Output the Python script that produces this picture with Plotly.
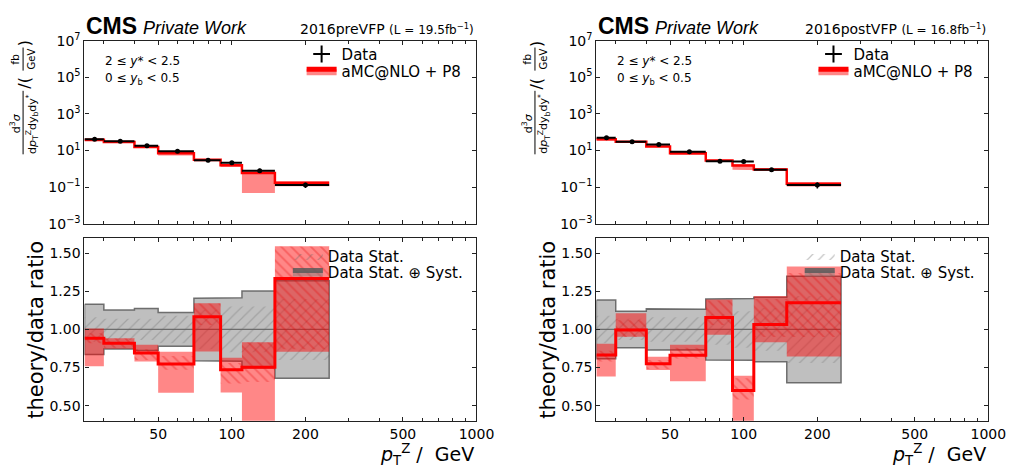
import math
import plotly.graph_objects as go

# ---------------- data ----------------
edges = [25, 30, 40, 50, 70, 90, 110, 150, 250]

# 2016preVFP
pre_data = [41, 32, 18.3, 9.2, 2.9, 2.1, 0.79, 0.13]
pre_ratio = [0.943, 0.91, 0.845, 0.773, 1.084, 0.735, 0.752, 1.334]
pre_theo_lo = [0.759, 0.874, 0.79, 0.584, 0.855, 0.586, 0.06, 0.853]
pre_theo_hi = [1.006, 0.943, 0.90, 0.853, 1.172, 0.815, 0.916, 1.546]
pre_theo_stat_lo = [0.91, 0.88, 0.80, 0.735, 1.03, 0.645, 0.655, 0.87]
pre_theo_stat_hi = [0.975, 0.94, 0.87, 0.825, 1.17, 0.78, 0.915, 1.545]
pre_unc_tot = [0.165, 0.128, 0.138, 0.111, 0.205, 0.208, 0.252, 0.32]
pre_unc_stat = [0.08, 0.07, 0.07, 0.09, 0.13, 0.15, 0.15, 0.2]

# 2016postVFP
post_data = [50, 30, 21, 8.5, 2.6, 2.5, 0.89, 0.13]
post_ratio = [0.832, 0.996, 0.775, 0.83, 1.078, 0.599, 1.033, 1.176]
post_theo_lo = [0.691, 0.952, 0.733, 0.66, 0.966, 0.35, 0.916, 0.822]
post_theo_hi = [0.906, 1.106, 0.82, 0.9, 1.197, 0.696, 1.22, 1.414]
post_theo_stat_lo = [0.79, 0.95, 0.74, 0.81, 1.03, 0.54, 0.95, 0.95]
post_theo_stat_hi = [0.86, 1.06, 0.80, 0.88, 1.19, 0.68, 1.20, 1.37]
post_unc_tot = [0.193, 0.12, 0.135, 0.133, 0.2, 0.203, 0.212, 0.35]
post_unc_stat = [0.09, 0.07, 0.08, 0.08, 0.1, 0.12, 0.14, 0.22]

x_major_vals = [50, 100, 200, 500, 1000]
x_major_text = ["50", "100", "200", "500", "1000"]
x_minor_vals = [30, 40, 60, 70, 80, 90, 300, 400, 600, 700, 800, 900]
top_y_tick_vals = [1e-3, 1e-1, 1e1, 1e3, 1e5, 1e7]
top_y_tick_text = ["10<sup>−3</sup>", "10<sup>−1</sup>", "10<sup>1</sup>", "10<sup>3</sup>", "10<sup>5</sup>", "10<sup>7</sup>"]
ratio_tick_vals = [0.5, 0.75, 1.0, 1.25, 1.5]
ratio_tick_text = ["0.50", "0.75", "1.00", "1.25", "1.50"]

eras = ["2016preVFP", "2016postVFP"]
lumis = ["19.5", "16.8"]

# ---------------- helpers ----------------
W, H = 1027, 476
FONT = "DejaVu Sans"


def pxx(x):
    return x / W


def pxy(y):
    return 1 - y / H


def step_line(vals):
    return edges, list(vals) + [vals[-1]]


def band_poly(lo, hi):
    xs, ys = [], []
    for i in range(len(lo)):
        xs += [edges[i], edges[i + 1]]
        ys += [hi[i], hi[i]]
    for i in reversed(range(len(lo))):
        xs += [edges[i + 1], edges[i]]
        ys += [lo[i], lo[i]]
    xs.append(xs[0])
    ys.append(ys[0])
    return xs, ys


centers = [(a + b) / 2 for a, b in zip(edges[:-1], edges[1:])]
halfw = [(b - a) / 2 for a, b in zip(edges[:-1], edges[1:])]

panels = [
    dict(data=pre_data, ratio=pre_ratio, tlo=pre_theo_lo, thi=pre_theo_hi,
         slo=pre_theo_stat_lo, shi=pre_theo_stat_hi, utot=pre_unc_tot, ustat=pre_unc_stat,
         xa="x", ya="y", xb="x2", yb="y2", legs=["legend", "legend2", "legend3", "legend4"], off=0),
    dict(data=post_data, ratio=post_ratio, tlo=post_theo_lo, thi=post_theo_hi,
         slo=post_theo_stat_lo, shi=post_theo_stat_hi, utot=post_unc_tot, ustat=post_unc_stat,
         xa="x3", ya="y3", xb="x4", yb="y4", legs=["legend5", "legend6", "legend7", "legend8"], off=521),
]

fig = go.Figure()
RED_FILL = "rgba(255,0,0,0.47)"

for p in panels:
    data = p["data"]
    legs = p["legs"]
    theo = [d * r for d, r in zip(data, p["ratio"])]
    tlo_abs = [d * r for d, r in zip(data, p["tlo"])]
    thi_abs = [d * r for d, r in zip(data, p["thi"])]

    # ---- top panel ----
    bx, by = band_poly(tlo_abs, thi_abs)
    fig.add_trace(go.Scatter(x=bx, y=by, xaxis=p["xa"], yaxis=p["ya"], mode="lines",
                             fill="toself", fillcolor=RED_FILL, line=dict(width=0),
                             showlegend=False, hoverinfo="skip"))
    sx, sy = step_line(theo)
    fig.add_trace(go.Scatter(x=sx, y=sy, xaxis=p["xa"], yaxis=p["ya"], mode="lines",
                             line=dict(color="red", width=2.5, shape="hv"), showlegend=False))
    yerr = [d * u for d, u in zip(data, p["utot"])]
    fig.add_trace(go.Scatter(x=centers, y=data, xaxis=p["xa"], yaxis=p["ya"], mode="markers",
                             marker=dict(color="black", size=5),
                             error_x=dict(type="data", array=halfw, color="black", thickness=2, width=0),
                             error_y=dict(type="data", array=yerr, color="black", thickness=1.5, width=0),
                             showlegend=False))
    # legend entries (top)
    fig.add_trace(go.Scatter(x=[None], y=[None], xaxis=p["xa"], yaxis=p["ya"], mode="markers",
                             marker=dict(symbol="cross-thin", size=15, color="black",
                                         line=dict(color="black", width=2)),
                             name="Data", legend=legs[0], showlegend=True))
    fig.add_trace(go.Scatter(x=[None], y=[None], xaxis=p["xa"], yaxis=p["ya"], mode="lines",
                             fill="toself", fillcolor=RED_FILL, line=dict(color="red", width=2.5),
                             name="aMC@NLO + P8", legend=legs[1], showlegend=True))

    # ---- ratio panel ----
    glo = [1 - u for u in p["utot"]]
    ghi = [1 + u for u in p["utot"]]
    gx, gy = band_poly(glo, ghi)
    slo = [1 - u for u in p["ustat"]]
    shi = [1 + u for u in p["ustat"]]
    hx, hy = band_poly(slo, shi)
    fig.add_trace(go.Scatter(x=hx, y=hy, xaxis=p["xb"], yaxis=p["yb"], mode="lines",
                             fill="toself", fillcolor="rgba(0,0,0,0)",
                             fillpattern=dict(shape="/", fgcolor="rgba(100,100,100,0.75)",
                                              bgcolor="rgba(0,0,0,0)", size=8, solidity=0.15),
                             line=dict(width=0), name="Data Stat.", legend=legs[2],
                             showlegend=True, hoverinfo="skip"))
    fig.add_trace(go.Scatter(x=gx, y=gy, xaxis=p["xb"], yaxis=p["yb"], mode="lines",
                             fill="toself", fillcolor="rgba(128,128,128,0.5)",
                             line=dict(color="rgba(90,90,90,0.85)", width=1.5),
                             name="Data Stat. ⊕ Syst.", legend=legs[3], showlegend=True,
                             hoverinfo="skip"))
    fig.add_trace(go.Scatter(x=[edges[0], edges[-1]], y=[1, 1], xaxis=p["xb"], yaxis=p["yb"],
                             mode="lines", line=dict(color="rgba(100,100,100,0.9)", width=1.3),
                             showlegend=False))
    rx, ry = band_poly(p["tlo"], p["thi"])
    fig.add_trace(go.Scatter(x=rx, y=ry, xaxis=p["xb"], yaxis=p["yb"], mode="lines",
                             fill="toself", fillcolor=RED_FILL, line=dict(width=0),
                             showlegend=False, hoverinfo="skip"))
    tx, ty = band_poly(p["slo"], p["shi"])
    fig.add_trace(go.Scatter(x=tx, y=ty, xaxis=p["xb"], yaxis=p["yb"], mode="lines",
                             fill="toself", fillcolor="rgba(0,0,0,0)",
                             fillpattern=dict(shape="\\", fgcolor="rgba(230,0,0,0.6)",
                                              bgcolor="rgba(0,0,0,0)", size=7, solidity=0.25),
                             line=dict(width=0), showlegend=False, hoverinfo="skip"))
    lx, ly = step_line(p["ratio"])
    fig.add_trace(go.Scatter(x=lx, y=ly, xaxis=p["xb"], yaxis=p["yb"], mode="lines",
                             line=dict(color="red", width=3, shape="hv"), showlegend=False))

# ---------------- axes ----------------
axis_common = dict(showline=True, linecolor="#222", linewidth=1.2, mirror="allticks",
                   ticks="inside", ticklen=4, tickwidth=1, tickcolor="#222",
                   showgrid=False, zeroline=False, tickfont=dict(family=FONT, size=14, color="black"))
xr = [math.log10(edges[0]), 3]
dom_left = [pxx(86), pxx(485)]
dom_right = [pxx(607), pxx(1006)]
dom_top = [pxy(222), pxy(32)]
dom_bot = [pxy(427), pxy(237)]

layout = dict(width=W, height=H, margin=dict(l=0, r=0, t=0, b=0), autosize=False,
              plot_bgcolor="white", paper_bgcolor="white",
              font=dict(family=FONT, color="black"))
for xa, ya, xd, yd, top in [("xaxis", "yaxis", dom_left, dom_top, True),
                            ("xaxis2", "yaxis2", dom_left, dom_bot, False),
                            ("xaxis3", "yaxis3", dom_right, dom_top, True),
                            ("xaxis4", "yaxis4", dom_right, dom_bot, False)]:
    yname = "y" + ya[5:]
    xname = "x" + xa[5:]
    layout[xa] = dict(axis_common, type="log", range=xr, domain=xd, anchor=yname,
                      tickmode="array", tickvals=x_major_vals, ticktext=x_major_text,
                      showticklabels=not top,
                      minor=dict(tickmode="array", tickvals=x_minor_vals, ticks="inside",
                                 ticklen=3, tickcolor="#222", showgrid=False))
    if top:
        layout[ya] = dict(axis_common, type="log", range=[-3, 7], domain=yd, anchor=xname,
                          tickvals=top_y_tick_vals, ticktext=top_y_tick_text)
    else:
        layout[ya] = dict(axis_common, range=[0.4, 1.6], domain=yd, anchor=xname,
                          tickvals=ratio_tick_vals, ticktext=ratio_tick_text)

leg_common = dict(bgcolor="rgba(0,0,0,0)", borderwidth=0, xanchor="left", yanchor="middle",
                  font=dict(family=FONT, size=15, color="black"), itemsizing="constant")
for i, p in enumerate(panels):
    o = p["off"]
    legs = p["legs"]
    layout[legs[0]] = dict(leg_common, x=pxx(307 + o), y=pxy(46))
    layout[legs[1]] = dict(leg_common, x=pxx(307 + o), y=pxy(64))
    layout[legs[2]] = dict(leg_common, x=pxx(293 + o), y=pxy(256))
    layout[legs[3]] = dict(leg_common, x=pxx(293 + o), y=pxy(273))
fig.update_layout(**layout)

# ---------------- text ----------------
ann = []
shapes = []
for i in range(2):
    o = panels[i]["off"]
    ann.append(dict(x=pxx(86 + o), y=pxy(17), text="<b>CMS</b>", xanchor="left", yanchor="middle",
                    font=dict(family="Liberation Sans", size=23)))
    ann.append(dict(x=pxx(144 + o), y=pxy(19), text="<i>Private Work</i>", xanchor="left",
                    yanchor="middle", font=dict(family="Liberation Sans", size=18)))
    ann.append(dict(x=pxx(485 + o), y=pxy(20),
                    text=eras[i] + " <span style='font-size:12px'>(L = " + lumis[i] + "fb<sup>−1</sup>)</span>",
                    xanchor="right", yanchor="middle", font=dict(family=FONT, size=14)))
    ann.append(dict(x=pxx(105 + o), y=pxy(53), text="2 ≤ <i>y</i>* < 2.5", xanchor="left",
                    yanchor="middle", font=dict(family=FONT, size=12)))
    ann.append(dict(x=pxx(105 + o), y=pxy(72), text="0 ≤ <i>y</i><sub>b</sub> < 0.5", xanchor="left",
                    yanchor="middle", font=dict(family=FONT, size=12)))
    # fraction y title
    ann.append(dict(x=pxx(16 + o), y=pxy(118), text="d<sup>3</sup><i>σ</i>", textangle=-90,
                    xanchor="center", yanchor="middle", font=dict(family=FONT, size=11)))
    ann.append(dict(x=pxx(32 + o), y=pxy(118),
                    text="d<i>p</i><sub>T</sub><sup>Z</sup>dy<sub>b</sub>dy<sup>*</sup>", textangle=-90,
                    xanchor="center", yanchor="middle", font=dict(family=FONT, size=11)))
    ann.append(dict(x=pxx(25 + o), y=pxy(76), text="/(", textangle=-90,
                    xanchor="center", yanchor="middle", font=dict(family=FONT, size=16)))
    ann.append(dict(x=pxx(15 + o), y=pxy(51), text="fb", textangle=-90,
                    xanchor="center", yanchor="middle", font=dict(family=FONT, size=11)))
    ann.append(dict(x=pxx(32 + o), y=pxy(51), text="GeV", textangle=-90,
                    xanchor="center", yanchor="middle", font=dict(family=FONT, size=10)))
    ann.append(dict(x=pxx(25 + o), y=pxy(35), text=")", textangle=-90,
                    xanchor="center", yanchor="middle", font=dict(family=FONT, size=16)))
    shapes.append(dict(type="line", xref="paper", yref="paper", x0=pxx(23.5 + o), x1=pxx(23.5 + o),
                       y0=pxy(84), y1=pxy(150), line=dict(color="black", width=1)))
    shapes.append(dict(type="line", xref="paper", yref="paper", x0=pxx(23.5 + o), x1=pxx(23.5 + o),
                       y0=pxy(39), y1=pxy(63), line=dict(color="black", width=1)))
    # ratio title
    ann.append(dict(x=pxx(37 + o), y=pxy(332), text="theory/data ratio", textangle=-90,
                    xanchor="center", yanchor="middle", font=dict(family=FONT, size=21)))
    # x title
    ann.append(dict(x=pxx(485 + o), y=pxy(462), text="<i>p</i><sub>T</sub><sup>Z</sup> /  GeV",
                    xanchor="right", yanchor="middle", font=dict(family=FONT, size=19)))

for a in ann:
    a.update(xref="paper", yref="paper", showarrow=False)
fig.update_layout(annotations=ann, shapes=shapes)

fig.write_html("out.html")
